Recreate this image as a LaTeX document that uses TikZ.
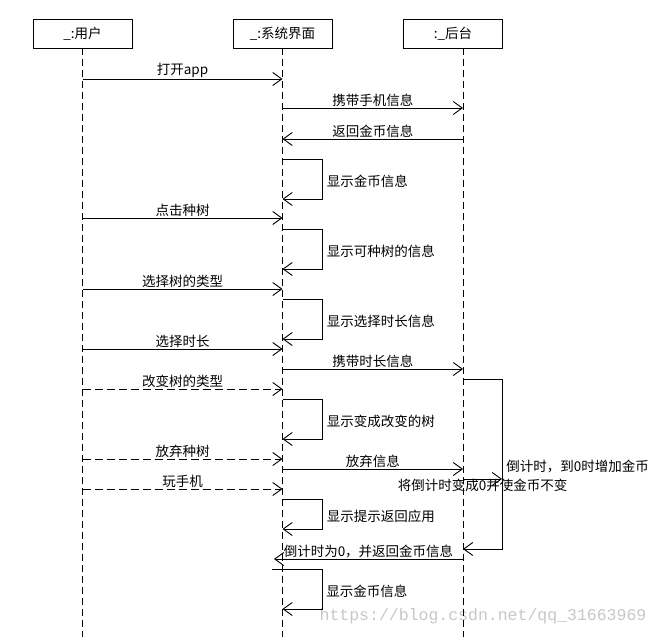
\documentclass[tikz,border=0pt]{standalone}
\usepackage{fontspec}
\setmainfont{Noto Sans CJK SC}
\newfontfamily\wmfont{Liberation Mono}
\usetikzlibrary{arrows.meta}
\begin{document}
\begin{tikzpicture}[x=1pt,y=-1pt, font=\fontsize{13.5}{15}\selectfont, line width=0.9pt,
 obj/.style={draw, minimum width=99pt, minimum height=29pt, inner sep=0pt},
 life/.style={dash pattern=on 7pt off 4pt},
 msg/.style={-{Straight Barb[length=9pt,width=13pt]}},
 amsg/.style={msg, dash pattern=on 8pt off 4pt},
 lbl/.style={inner sep=1pt},
 side/.style={right=3pt, inner sep=1pt, yshift=-2.5pt},
]
\useasboundingbox (0,0) rectangle (659,637);
% watermark
\node[text=black!22, font=\wmfont\fontsize{16.5}{18}\selectfont] (wm) at (483,616) {https://blog.csdn.net/qq\_31663969};
% objects
\node[obj] (U) at (82.5,33.5) {\_:用户};
\node[obj] (S) at (282.5,33.5) {\_:系统界面};
\node[obj] (B) at (453,33.5) {:\_后台};
\coordinate (BL) at (463,48);
% lifelines
\draw[life] (U.south) -- (U|-0,637);
\draw[life] (S.south) -- (S|-0,637);
\draw[life] (BL) -- (BL|-0,637);
% messages
\draw[msg] (U|-0,79) -- (S|-0,79) node[midway, above, lbl] {打开app};
\draw[msg] (S|-0,108) -- (BL|-0,108) node[midway, above, lbl] {携带手机信息};
\draw[msg] (BL|-0,139) -- (S|-0,139) node[midway, above, lbl] {返回金币信息};
\draw[msg] (S|-0,159) -- ++(40,0) -- ++(0,40) node[midway, side] {显示金币信息} -- ++(-40,0);
\draw[msg] (U|-0,218) -- (S|-0,218) node[midway, above, lbl] {点击种树};
\draw[msg] (S|-0,229) -- ++(40,0) -- ++(0,40) node[midway, side] {显示可种树的信息} -- ++(-40,0);
\draw[msg] (U|-0,289) -- (S|-0,289) node[midway, above, lbl] {选择树的类型};
\draw[msg] (S|-0,299) -- ++(40,0) -- ++(0,40) node[midway, side] {显示选择时长信息} -- ++(-40,0);
\draw[msg] (U|-0,349) -- (S|-0,349) node[midway, above, lbl] {选择时长};
\draw[msg] (S|-0,369) -- (BL|-0,369) node[midway, above, lbl] {携带时长信息};
\draw[msg] (BL|-0,379) -- (502,379) -- (502,549) node[pos=0.5, side] {倒计时，到0时增加金币} -- (BL|-0,549);
\draw[amsg] (U|-0,389) -- (S|-0,389) node[midway, above, lbl] {改变树的类型};
\draw[msg] (S|-0,399) -- ++(40,0) -- ++(0,40) node[midway, side] {显示变成改变的树} -- ++(-40,0);
\draw[amsg] (U|-0,459) -- (S|-0,459) node[midway, above, lbl] {放弃种树};
\draw[msg] (S|-0,469) -- (BL|-0,469) node[midway, above, lbl] {放弃信息};
\draw[msg] (BL|-0,479) -- (502,479) node[midway, below, inner sep=0pt] {将倒计时变成0并使金币不变};
\draw[amsg] (U|-0,489) -- (S|-0,489) node[midway, above, lbl] {玩手机};
\draw[msg] (S|-0,499) -- ++(40,0) -- ++(0,30) node[midway, side] {显示提示返回应用} -- ++(-40,0);
\draw[msg] (BL|-0,559) -- (274,559) node[midway, above, lbl] {倒计时为0，并返回金币信息};
\draw[msg] (272,569) -- (322,569) -- (322,609) node[midway, side] {显示金币信息} -- (S|-0,609);
\end{tikzpicture}
\end{document}
